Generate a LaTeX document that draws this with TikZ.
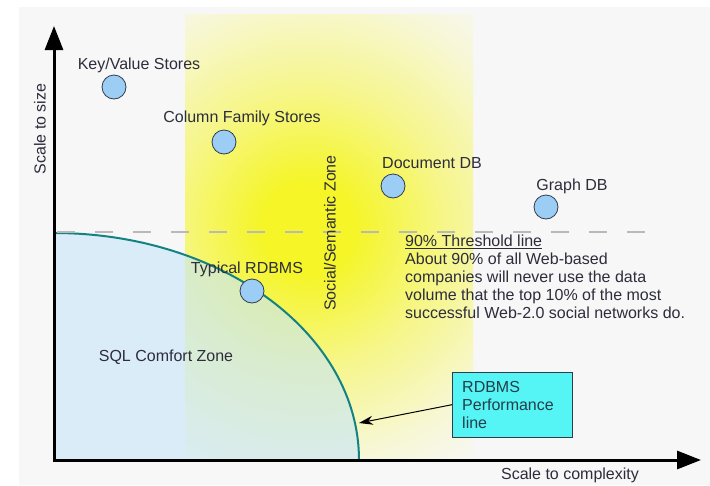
\documentclass[tikz,border=0pt]{standalone}
\usepackage{fontspec}
\setmainfont{Liberation Sans}
\usepackage{xcolor}
\usepackage{tikz}
\usetikzlibrary{arrows.meta,positioning,calc}
\definecolor{bgGray}{RGB}{247,247,247}
\definecolor{zoneYellow}{RGB}{245,245,40}
\definecolor{zoneMid}{RGB}{246,246,140}
\definecolor{zoneFaint}{RGB}{247,247,215}
\definecolor{sqlBlue}{RGB}{200,230,247}
\definecolor{perfTeal}{RGB}{20,130,130}
\definecolor{bubbleBlue}{RGB}{155,205,245}
\definecolor{bubbleEdge}{RGB}{50,60,75}
\definecolor{calloutCyan}{RGB}{85,245,245}
\definecolor{textDark}{RGB}{45,45,60}
\definecolor{thrGray}{RGB}{185,185,185}
\pgfdeclareradialshading{socialzone}{\pgfpoint{0bp}{0bp}}{%
  color(0bp)=(zoneYellow); color(4bp)=(zoneYellow);
  color(12bp)=(zoneMid); color(20bp)=(zoneFaint);
  color(25bp)=(bgGray); color(50bp)=(bgGray)}
\tikzset{
  dbbubble/.style={
    circle, draw=bubbleEdge, thick, fill=bubbleBlue,
    minimum size=24pt, inner sep=0pt
  },
  dblabel/.style={font=\fontsize{16}{18}\selectfont, text=textDark, inner sep=1pt},
  axisArrow/.style={
    line width=3pt, draw=black,
    {Triangle[length=24pt,width=18pt]}-{Triangle[length=24pt,width=18pt]}
  }
}
\begin{document}
\begin{tikzpicture}[x=1pt, y=-1pt,
    callout/.style={rectangle, draw=bubbleEdge, fill=calloutCyan, align=left,
                    text width=100pt, inner xsep=10pt, minimum height=65pt,
                    font=\fontsize{16}{18}\selectfont, text=textDark!80!teal},
    calloutArrow/.style={-{Stealth[length=14pt,width=9pt]}, line width=1pt, draw=black},
    thrLine/.style={draw=thrGray, line width=2pt, dash pattern=on 18pt off 20pt}]
  \useasboundingbox (0,0) rectangle (710,485);
  \fill[bgGray] (19,7) rectangle (710,485);
  % social / semantic zone
  \begin{scope}
    \clip (185,14) rectangle (473,460);
    \shade[shading=socialzone] (308,228) circle (290pt);
  \end{scope}
  % sql comfort zone
  \coordinate (origin) at (54,460);
  \fill[sqlBlue, fill opacity=0.62] (origin) -- (54,233)
    arc[start angle=-90, end angle=0, x radius=305, y radius=227] -- cycle;
  \draw[perfTeal, line width=2pt] (54,233)
    arc[start angle=-90, end angle=0, x radius=305, y radius=227];
  % threshold
  \coordinate (thr west) at (57,232);
  \coordinate (thr east) at (650,232);
  \draw[thrLine] (thr west) -- (thr east);
  % axes
  \coordinate (ytip) at (54,26);
  \coordinate (xtip) at (701,460);
  \draw[axisArrow] (ytip) -- (origin) -- (xtip);
  \node[dblabel, rotate=90] (ylabel) at (40,129) {Scale to size};
  \node[dblabel] (xlabel) at (570,475) {Scale to complexity};
  % stores
  \node[dbbubble] (kv)    at (114,87)  {};
  \node[dbbubble] (cf)    at (224,142) {};
  \node[dbbubble] (doc)   at (393,186) {};
  \node[dbbubble] (graph) at (546,207) {};
  \node[dbbubble] (rdbms) at (252,291) {};
  \node[dblabel] (kv label)    at (139,65)  {Key/Value Stores};
  \node[dblabel] (cf label)    at (242,118) {Column Family Stores};
  \node[dblabel] (doc label)   at (432,163) {Document DB};
  \node[dblabel] (graph label) at (572,186) {Graph DB};
  \node[dblabel] (rdbms label) at (247,269) {Typical RDBMS};
  \node[dblabel] (sql label)   at (166,357) {SQL Comfort Zone};
  \node[dblabel, rotate=90] (social label) at (330,233) {Social/Semantic Zone};
  \node[dblabel, anchor=north west, align=left] (thr note) at (404,234)
    {\underline{90\% Threshold line}\\
     About 90\% of all Web-based\\
     companies will never use the data\\
     volume that the top 10\% of the most\\
     successful Web-2.0 social networks do.};
  % callout
  \node[callout, anchor=north west] (perf box) at (452,372) {RDBMS\\Performance\\line};
  \coordinate (perf tip) at (359,423);
  \draw[calloutArrow] (perf box.west) -- (perf tip);
\end{tikzpicture}
\end{document}
